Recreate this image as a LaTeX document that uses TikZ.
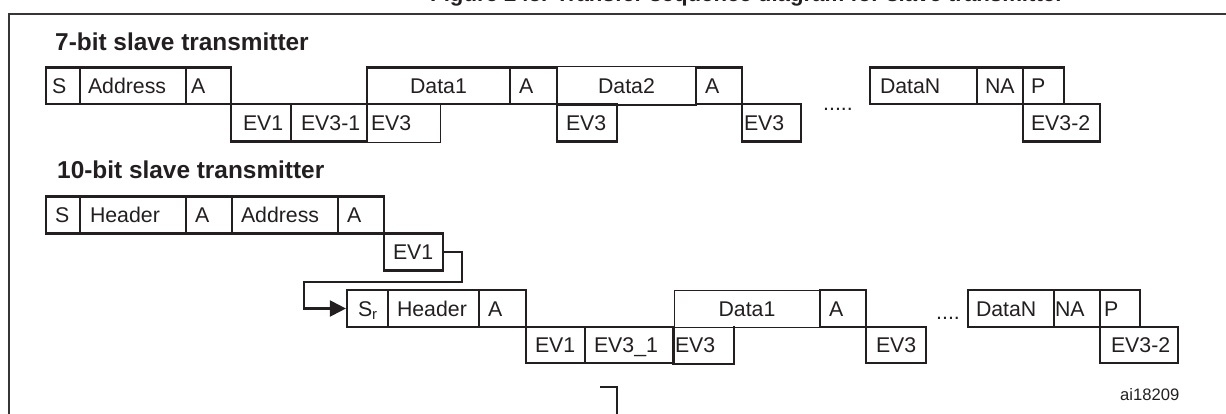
\documentclass[tikz,border=0pt]{standalone}
\usepackage{fontspec}
\setmainfont{Liberation Sans}
\usetikzlibrary{arrows.meta}
\definecolor{ink}{HTML}{231F20}
\newcommand\cellfont{\fontsize{21.3pt}{25pt}\selectfont}
\newcommand\headfont{\fontsize{24.4pt}{28pt}\selectfont\bfseries}
\tikzset{
  cellbase/.style={draw=ink, line width=2.2pt, inner sep=0pt, font=\cellfont,
    text=ink, text height=15.3pt, text depth=0pt, align=left},
  thickline/.style={draw=ink, line width=2.2pt},
  thinline/.style={draw=ink, line width=1pt},
  heading/.style={anchor=base west, inner sep=0pt, font=\headfont, text=ink},
  dotsnode/.style={anchor=base west, inner sep=0pt, font=\cellfont, text=ink},
  conn/.style={draw=ink, line width=2.2pt, -{Triangle[length=16pt,width=16pt]}},
}
\newcommand\cell[8][]{%
  \pgfmathsetmacro\cw{#5-#3}\pgfmathsetmacro\ch{#6-#4}%
  \node[cellbase,#1,minimum width=\cw pt,minimum height=\ch pt,text width=\cw pt]
    (#2) at ({(#3+#5)/2},{-(#4+#6)/2}) {\hspace*{#7pt}#8};}
\begin{document}
\begin{tikzpicture}[x=1pt,y=1pt]
\useasboundingbox (0,0) rectangle (1226,-413);
\begin{scope}
\clip (0,0) rectangle (1226,-413);
% title (cut off at top: only the very bottom shows)
\node[anchor=base west, inner sep=0pt, font=\fontsize{22.2pt}{26pt}\selectfont\bfseries, text=ink] (title) at (430,-1.2) {Figure 245. Transfer sequence diagram for slave transmitter};
% frame
\draw[draw=ink!90, line width=2pt] (9,-14) rectangle (1245,-430);
% cut-off mark at bottom
\coordinate (m1) at (600,-387);
\coordinate (m2) at (617,-387);
\coordinate (m3) at (617,-420);
\draw[thickline] (m1) -- (m2) -- (m3);
\end{scope}
% ---------- 7-bit ----------
\node[heading] (h7) at (55,-50) {7-bit slave transmitter};
\cell{s1}{46}{67.5}{80}{104}{6}{S}
\cell{addr1}{80}{67.5}{186}{104}{8}{Address}
\cell{a1}{186}{67.5}{231}{104}{5}{A}
\cell{ev1a}{231}{104}{291}{141.5}{12}{EV1}
\cell{ev31a}{291}{104}{367}{141.5}{10}{EV3-1}
\cell[draw=none]{ev3a}{367}{104}{439}{141.5}{4}{EV3}
\draw[thinline] (ev3a.north east) -- (ev3a.south east) -- (ev3a.south west);
\cell[align=center]{d1a}{367}{67.5}{510}{104}{0}{Data1}
\cell{a2}{510}{67.5}{557}{104}{9}{A}
\cell[draw=none,align=center]{d2a}{557}{67.5}{696}{104}{0}{Data2}
\draw[thinline] (d2a.north west) -- (d2a.north east);
\draw[thickline] (d2a.south west) -- (d2a.south east);
\cell{ev3b}{557}{104}{617}{141.5}{9}{EV3}
\cell{a3}{696}{67.5}{742}{104}{9}{A}
\cell{ev3c}{742}{104}{801}{141.5}{2}{EV3}
\node[dotsnode] (dots1) at (823,-110) {.....};
\cell{dn1}{870}{67.5}{977}{104}{10}{DataN}
\cell{na1}{977}{67.5}{1023}{104}{8}{NA}
\cell{p1}{1023}{67.5}{1064}{104}{8}{P}
\cell{ev32a}{1023}{104}{1100}{141.5}{8}{EV3-2}
% ---------- 10-bit ----------
\node[heading] (h10) at (57,-178) {10-bit slave transmitter};
\cell{s2}{46}{196.5}{80}{233.5}{9}{S}
\cell{hd1}{80}{196.5}{186}{233.5}{10}{Header}
\cell{a4}{186}{196.5}{232}{233.5}{9}{A}
\cell{addr2}{232}{196.5}{338}{233.5}{9}{Address}
\cell{a5}{338}{196.5}{384}{233.5}{9}{A}
\cell{ev1b}{384}{233.5}{443}{270.5}{9}{EV1}
\cell{sr}{347}{290}{388}{327}{11}{S\textsubscript{r}}
\cell{hd2}{388}{290}{479}{327}{9}{Header}
\cell{a6}{479}{290}{526}{327}{9}{A}
\cell[line width=1pt,align=center]{d1b}{674}{290}{820}{327}{0}{Data1}
\cell{ev1c}{526}{327}{585}{363}{9}{EV1}
\cell{ev31b}{585}{327}{674}{363}{9}{EV3\_1}
\cell[draw=none]{ev3d}{674}{327}{733}{363}{1}{EV3}
\draw[thickline] (ev3d.north west) -- (ev3d.south west) -- (ev3d.south east) -- (ev3d.north east);
\cell{a7}{820}{290}{866}{327}{9}{A}
\cell{ev3e}{866}{327}{926}{363}{10}{EV3}
\node[dotsnode] (dots2) at (936,-319) {....};
\cell{dn2}{968}{290}{1054}{327}{8}{DataN}
\cell{na2}{1054}{290}{1100}{327}{1}{NA}
\cell{p2}{1100}{290}{1140}{327}{4}{P}
\cell{ev32b}{1100}{327}{1178}{363}{11}{EV3-2}
% connector
\coordinate (k1) at (462,-282);
\coordinate (k2) at (304,-282);
\draw[conn] (ev1b.east) -| (k1) -- (k2) |- (sr.west);
\node[anchor=base west, inner sep=0pt, font=\fontsize{16.6pt}{20pt}\selectfont, text=ink] (ref) at (1120,-400) {ai18209};
\end{tikzpicture}
\end{document}
